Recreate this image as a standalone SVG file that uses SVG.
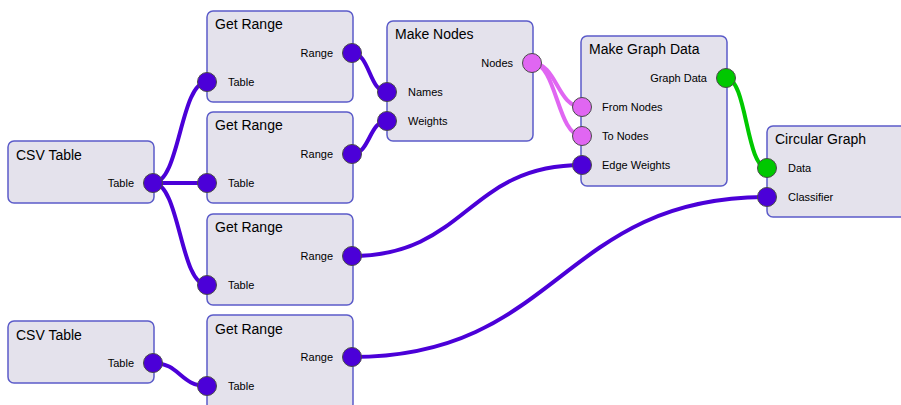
<svg xmlns="http://www.w3.org/2000/svg" width="901" height="405" viewBox="0 0 901 405">
<style>
.node{fill:#e4e2ec;stroke:#5b5bc9;stroke-width:1.5}
.title{font-family:"Liberation Sans",Arial,sans-serif;font-size:14px;fill:#000}
.lbl{font-family:"Liberation Sans",Arial,sans-serif;font-size:11px;fill:#000}
.r{text-anchor:end}
.p{stroke:#4a4a4a;stroke-width:1}
.pu{fill:#4b00d8}
.pk{fill:#e066f2}
.gr{fill:#00c800}
.c{fill:none;stroke-width:4;stroke-linecap:round}
.cpu{stroke:#4b00d8}
.cpk{stroke:#e066f2}
.cgr{stroke:#00c800}
</style>
<rect width="901" height="405" fill="#ffffff"/>
<g id="connectors">
<path class="c cpu" d="M153,183 C180,183 180,82 207,82"/>
<path class="c cpu" d="M153,183 L207,183"/>
<path class="c cpu" d="M153,183 C180,183 180,285 207,285"/>
<path class="c cpu" d="M153,363 C180,363 180,386 207,386"/>
<path class="c cpu" d="M352,53 C370,53 369,92 387,92"/>
<path class="c cpu" d="M352,154 C370,154 369,121 387,121"/>
<path class="c cpu" d="M352,256 C467,256 467,165 582,165"/>
<path class="c cpu" d="M352,357 C560,357 560,197 767,197"/>
<path class="c cpk" d="M532,63 C557,63 557,107 582,107"/>
<path class="c cpk" d="M532,63 C557,63 557,136 582,136"/>
<path class="c cgr" d="M726,78 C747,78 746,168 767,168"/>
</g>
<g id="csv1">
<rect class="node" x="8" y="141" width="146" height="62" rx="6"/>
<text class="title" x="16" y="160">CSV Table</text>
<text class="lbl r" x="134" y="187">Table</text>
<circle class="p pu" cx="153" cy="183" r="9.5"/>
</g>
<g id="csv2">
<rect class="node" x="8" y="321" width="146" height="62" rx="6"/>
<text class="title" x="16" y="340">CSV Table</text>
<text class="lbl r" x="134" y="367">Table</text>
<circle class="p pu" cx="153" cy="363" r="9.5"/>
</g>
<g id="range1">
<rect class="node" x="207" y="11" width="146" height="91" rx="6"/>
<text class="title" x="215" y="29">Get Range</text>
<text class="lbl r" x="333" y="57">Range</text>
<text class="lbl" x="228" y="86">Table</text>
<circle class="p pu" cx="352" cy="53" r="9.5"/>
<circle class="p pu" cx="207" cy="82" r="9.5"/>
</g>
<g id="range2">
<rect class="node" x="207" y="112" width="146" height="91" rx="6"/>
<text class="title" x="215" y="130">Get Range</text>
<text class="lbl r" x="333" y="158">Range</text>
<text class="lbl" x="228" y="187">Table</text>
<circle class="p pu" cx="352" cy="154" r="9.5"/>
<circle class="p pu" cx="207" cy="183" r="9.5"/>
</g>
<g id="range3">
<rect class="node" x="207" y="214" width="146" height="91" rx="6"/>
<text class="title" x="215" y="232">Get Range</text>
<text class="lbl r" x="333" y="260">Range</text>
<text class="lbl" x="228" y="289">Table</text>
<circle class="p pu" cx="352" cy="256" r="9.5"/>
<circle class="p pu" cx="207" cy="285" r="9.5"/>
</g>
<g id="range4">
<rect class="node" x="207" y="315" width="146" height="95" rx="6"/>
<text class="title" x="215" y="334">Get Range</text>
<text class="lbl r" x="333" y="361">Range</text>
<text class="lbl" x="228" y="390">Table</text>
<circle class="p pu" cx="352" cy="357" r="9.5"/>
<circle class="p pu" cx="207" cy="386" r="9.5"/>
</g>
<g id="makenodes">
<rect class="node" x="387" y="21" width="146" height="120" rx="6"/>
<text class="title" x="395" y="39">Make Nodes</text>
<text class="lbl r" x="513" y="67">Nodes</text>
<text class="lbl" x="408" y="96">Names</text>
<text class="lbl" x="408" y="125">Weights</text>
<circle class="p pk" cx="532" cy="63" r="9.5"/>
<circle class="p pu" cx="387" cy="92" r="9.5"/>
<circle class="p pu" cx="387" cy="121" r="9.5"/>
</g>
<g id="graphdata">
<rect class="node" x="581" y="36" width="146" height="150" rx="6"/>
<text class="title" x="589" y="54">Make Graph Data</text>
<text class="lbl r" x="707" y="82">Graph Data</text>
<text class="lbl" x="602" y="111">From Nodes</text>
<text class="lbl" x="602" y="140">To Nodes</text>
<text class="lbl" x="602" y="169">Edge Weights</text>
<circle class="p gr" cx="726" cy="78" r="9.5"/>
<circle class="p pk" cx="582" cy="107" r="9.5"/>
<circle class="p pk" cx="582" cy="136" r="9.5"/>
<circle class="p pu" cx="582" cy="165" r="9.5"/>
</g>
<g id="circular">
<rect class="node" x="767" y="126" width="146" height="91" rx="6"/>
<text class="title" x="775" y="144">Circular Graph</text>
<text class="lbl" x="788" y="172">Data</text>
<text class="lbl" x="788" y="201">Classifier</text>
<circle class="p gr" cx="767" cy="168" r="9.5"/>
<circle class="p pu" cx="767" cy="197" r="9.5"/>
</g>
</svg>
